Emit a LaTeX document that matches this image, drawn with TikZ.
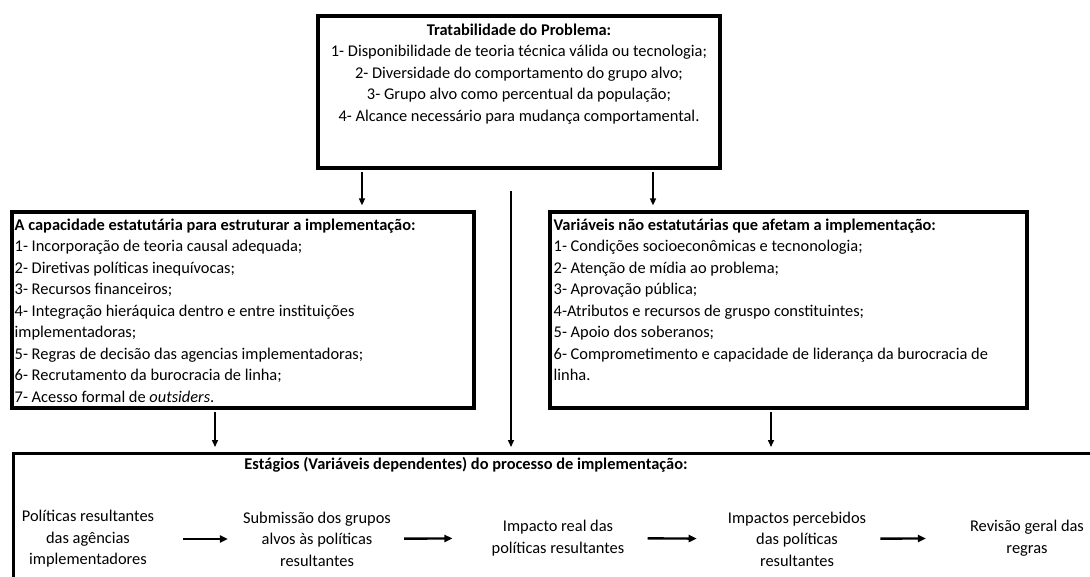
\documentclass[tikz,border=0pt]{standalone}
\usepackage{fontspec}
\setmainfont{Carlito}
\usepackage{tikz}
\usetikzlibrary{arrows.meta, positioning}

\begin{document}
\begin{tikzpicture}[x=1pt, y=-1pt, box/.style={rectangle, draw, line width=3.2pt, inner sep=0pt}, list/.style={anchor=north west, inner sep=0pt, align=left, font=\fontsize{16.4}{21.5}\selectfont}, stage/.style={inner sep=0pt, align=center, font=\fontsize{16.4}{21.5}\selectfont}, down/.style={-{Triangle[length=7pt, width=6pt]}, line width=1.5pt}, flow/.style={-{Triangle[length=8pt, width=7pt]}, line width=2.4pt}]

            \useasboundingbox (0,0) rectangle (1090,576);
            \clip (0,0) rectangle (1090,576);

            \node[box, minimum width=402, minimum height=152] (prob) at (519,92) {};
            \node[stage, anchor=north] (probtxt) at (519,20) {\strut\textbf{Tratabilidade do Problema:}\\1- Disponibilidade de teoria técnica válida ou tecnologia;\\2- Diversidade do comportamento do grupo alvo;\\3- Grupo alvo como percentual da população;\\4- Alcance necessário para mudança comportamental.};

            \node[box, minimum width=462, minimum height=196] (cap) at (243,310) {};
            \node[list] (captxt) at (14.5,215) {\strut\textbf{A capacidade estatutária para estruturar a implementação:}\\1- Incorporação de teoria causal adequada;\\2- Diretivas políticas inequívocas;\\3- Recursos financeiros;\\4- Integração hieráquica dentro e entre instituições\\implementadoras;\\5- Regras de decisão das agencias implementadoras;\\6- Recrutamento da burocracia de linha;\\7- Acesso formal de \textit{outsiders}.};

            \node[box, minimum width=477, minimum height=196] (vars) at (788.5,310) {};
            \node[list] (varstxt) at (553.5,215) {\strut\textbf{Variáveis não estatutárias que afetam a implementação:}\\1- Condições socioeconômicas e tecnonologia;\\2- Atenção de mídia ao problema;\\3- Aprovação pública;\\4-Atributos e recursos de gruspo constituintes;\\5- Apoio dos soberanos;\\6- Comprometimento e capacidade de liderança da burocracia de\\linha.};

            \node[box, anchor=north west, minimum width=1100, minimum height=150] (stages) at (12,452) {};
            \node[stage, anchor=base] (stagestit) at (466,469) {\textbf{Estágios (Variáveis dependentes) do processo de implementação:}};

            \node[stage] (s1) at (88,539) {Políticas resultantes\\das agências\\implementadores};
            \node[stage] (s2) at (317,539) {Submissão dos grupos\\alvos às políticas\\resultantes};
            \node[stage] (s3) at (558,538) {Impacto real das\\políticas resultantes};
            \node[stage] (s4) at (797,539) {Impactos percebidos\\das políticas\\resultantes};
            \node[stage] (s5) at (1027,538) {Revisão geral das\\regras};

            \coordinate (t1) at (362,172);
            \coordinate (t2) at (653,172);
            \coordinate (t3) at (511,191);
            \coordinate (b1) at (215,412);
            \coordinate (b2) at (771,412);

            \draw[down, shorten >=5pt] (t1) -- (t1 |- cap.north);
            \draw[down, shorten >=5pt] (t2) -- (t2 |- vars.north);
            \draw[down, shorten >=5pt] (t3) -- (t3 |- stages.north);
            \draw[down, shorten >=5pt] (b1) -- (b1 |- stages.north);
            \draw[down, shorten >=5pt] (b2) -- (b2 |- stages.north);

            \draw[flow, shorten <=29pt, shorten >=15pt] (s1) -- (s2);
            \draw[flow, shorten <=13pt, shorten >=39pt] (s2) -- (s3);
            \draw[flow, shorten <=23pt, shorten >=31pt] (s3) -- (s4);
            \draw[flow, shorten <=14pt, shorten >=44pt] (s4) -- (s5);

        \end{tikzpicture}
\end{document}
